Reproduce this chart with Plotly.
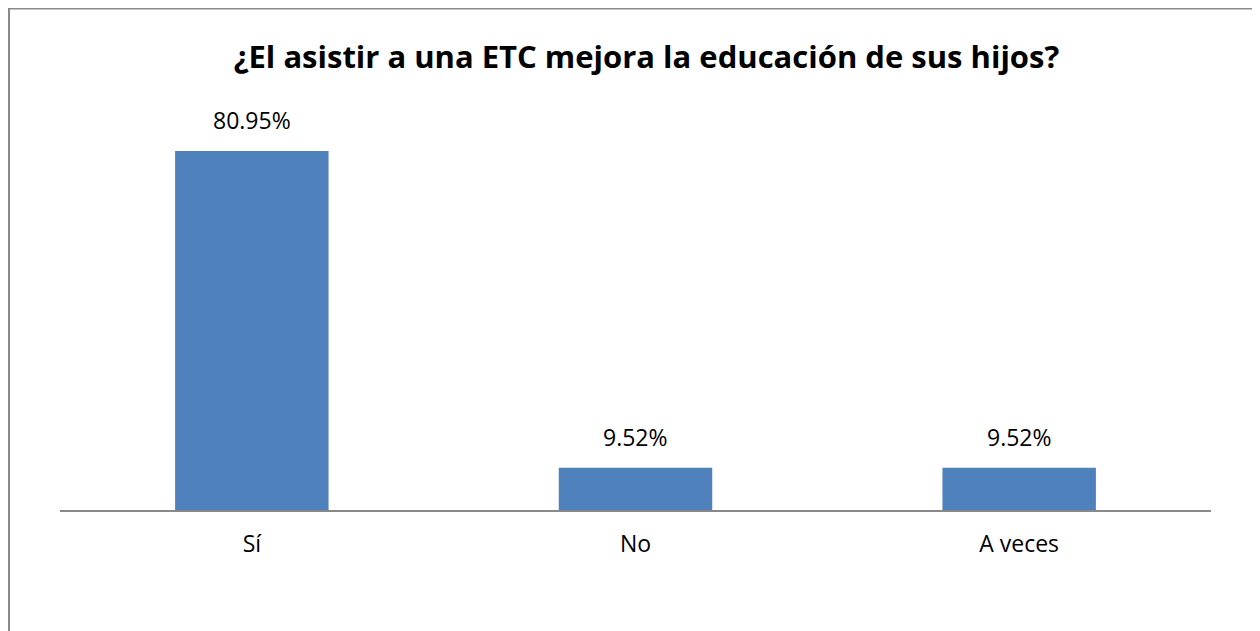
import plotly.graph_objects as go

categories = ["Sí", "No", "A veces"]
values = [80.95, 9.52, 9.52]
labels = ["80.95%", "9.52%", "9.52%"]
title_text = "¿El asistir a una ETC mejora la educación de sus hijos?"

BAR_COLOR = "#4F81BD"
GRAY = "#898989"
FONT = "Open Sans"

# page has an 8px body margin; layout values below are in figure coordinates
L, R, T, B = 52, 57, 103, 129
PW = 1260 - L - R
PH = 631 - T - B

fig = go.Figure()
fig.add_trace(go.Bar(x=categories, y=values, marker=dict(color=BAR_COLOR, line=dict(width=0)),
                     hoverinfo="skip"))

for c, v, t in zip(categories, values, labels):
    fig.add_annotation(x=c, y=v, text=t, showarrow=False, xanchor="center", yanchor="bottom",
                       yshift=13, font=dict(family=FONT, size=23, color="#000000"))

fig.update_layout(
    width=1260, height=631,
    margin=dict(l=L, r=R, t=T, b=B),
    paper_bgcolor="white", plot_bgcolor="white",
    bargap=0.6,
    showlegend=False,
    title=dict(text=title_text, x=638.5 / 1260, xanchor="center", xref="container",
               y=1 - 49 / 631, yanchor="middle", yref="container",
               font=dict(family=FONT, size=31, color="#000000", weight="bold")),
    xaxis=dict(type="category", range=[-0.5, 2.5], showgrid=False, zeroline=False,
               showline=True, linecolor=GRAY, linewidth=2, ticks="",
               tickfont=dict(family=FONT, size=23, color="#000000"),
               ticklabelstandoff=12),
    yaxis=dict(range=[0, 90], visible=False, showgrid=False, zeroline=False),
    shapes=[dict(type="rect", xref="paper", yref="paper",
                 x0=(1 - L) / PW, x1=1.2, y0=-0.5, y1=(PH + T - 0.5) / PH,
                 line=dict(color=GRAY, width=2), fillcolor="rgba(0,0,0,0)", layer="below")],
)

fig.write_html("out.html")
